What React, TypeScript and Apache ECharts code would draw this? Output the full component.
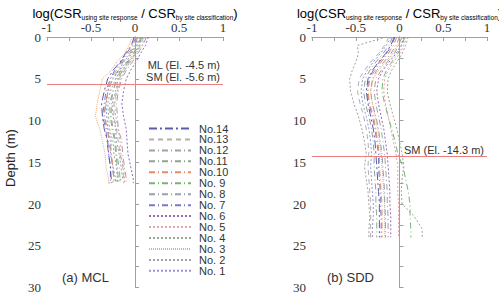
import React, { useEffect, useRef } from "react";
import * as echarts from "echarts";

// Depth sample points (m)
const depthMCL = [0, 1, 2, 3, 4, 5, 6.5, 8, 9.5, 11, 12.5, 14, 15.5, 17, 17.5];
const depthSDD = [0, 1, 2, 3, 4, 5, 6.5, 8, 9.5, 11, 12.5, 14, 15.5, 17, 18.5, 20, 21.5, 23, 24];

// Tick labels
const xTicks = [-1, -0.5, 0, 0.5, 1];
const yTicks = [0, 5, 10, 15, 20, 25, 30];

const seriesNames = ["No. 1", "No. 2", "No. 3", "No. 4", "No. 5", "No. 6", "No. 7", "No. 8", "No. 9", "No.10", "No.11", "No.12", "No.13", "No.14"];

// (a) MCL: log ratio per record
const mcl1 = [0.04, 0.01, -0.05, -0.13, -0.18, -0.25, -0.31, -0.33, -0.32, -0.31, -0.27, -0.28, -0.25, -0.22, -0.22];
const mcl2 = [0.09, 0.05, 0.0, -0.07, -0.14, -0.19, -0.22, -0.26, -0.25, -0.22, -0.21, -0.18, -0.16, -0.14, -0.30];
const mcl3 = [-0.03, -0.07, -0.12, -0.21, -0.27, -0.37, -0.40, -0.43, -0.45, -0.40, -0.37, -0.34, -0.33, -0.30, -0.30];
const mcl4 = [0.06, 0.02, -0.04, -0.10, -0.17, -0.22, -0.28, -0.31, -0.30, -0.29, -0.25, -0.24, -0.21, -0.20, -0.20];
const mcl5 = [0.12, 0.08, 0.01, -0.05, -0.12, -0.16, -0.20, -0.23, -0.22, -0.19, -0.17, -0.16, -0.13, -0.12, -0.12];
const mcl6 = [0.15, 0.12, 0.06, 0.01, -0.05, -0.10, -0.13, -0.15, -0.13, -0.10, -0.09, -0.08, -0.05, -0.02, -0.02];
const mcl7 = [0.01, -0.03, -0.10, -0.16, -0.23, -0.28, -0.33, -0.35, -0.37, -0.33, -0.32, -0.30, -0.28, -0.28, -0.28];
const mcl8 = [0.03, 0.0, -0.06, -0.14, -0.19, -0.26, -0.30, -0.34, -0.35, -0.32, -0.28, -0.27, -0.26, -0.24, -0.24];
const mcl9 = [0.07, 0.03, -0.02, -0.09, -0.16, -0.21, -0.25, -0.29, -0.28, -0.26, -0.23, -0.22, -0.20, -0.19, -0.19];
const mcl10 = [0.02, -0.01, -0.08, -0.15, -0.21, -0.28, -0.31, -0.33, -0.35, -0.31, -0.30, -0.27, -0.25, -0.24, -0.24];
const mcl11 = [0.08, 0.04, -0.01, -0.08, -0.14, -0.20, -0.25, -0.27, -0.27, -0.25, -0.22, -0.21, -0.18, -0.17, -0.17];
const mcl12 = [0.13, 0.09, 0.03, -0.03, -0.10, -0.15, -0.19, -0.21, -0.20, -0.19, -0.15, -0.14, -0.12, -0.10, -0.10];
const mcl13 = [0.10, 0.06, 0.01, -0.06, -0.12, -0.18, -0.21, -0.24, -0.24, -0.21, -0.19, -0.17, -0.14, -0.13, -0.13];
const mcl14 = [-0.01, -0.04, -0.11, -0.17, -0.25, -0.31, -0.35, -0.38, -0.37, -0.35, -0.31, -0.30, -0.28, -0.27, -0.27];

// (b) SDD
const sdd1 = [-0.10, -0.15, -0.22, -0.30, -0.37, -0.42, -0.44, -0.42, -0.38, -0.35, -0.33, -0.32, -0.33, -0.32, -0.31, -0.30, -0.30, -0.31, -0.31];
const sdd2 = [-0.15, -0.48, -0.47, -0.50, -0.54, -0.57, -0.56, -0.52, -0.47, -0.43, -0.40, -0.38, -0.40, -0.38, -0.36, -0.35, -0.34, -0.35, -0.35];
const sdd3 = [0.02, -0.02, -0.08, -0.16, -0.24, -0.30, -0.33, -0.31, -0.28, -0.25, -0.23, -0.21, -0.20, -0.19, -0.18, -0.17, -0.17, -0.17, -0.17];
const sdd4 = [0.10, 0.07, 0.03, -0.03, -0.09, -0.13, -0.14, -0.11, -0.07, -0.03, 0.0, 0.03, 0.05, 0.03, 0.02, 0.03, 0.17, 0.26, 0.26];
const sdd5 = [0.08, 0.05, 0.0, -0.07, -0.13, -0.17, -0.18, -0.16, -0.13, -0.10, -0.07, -0.04, -0.02, -0.02, -0.02, -0.01, -0.01, -0.01, -0.01];
const sdd6 = [0.05, 0.02, -0.04, -0.12, -0.19, -0.24, -0.26, -0.24, -0.21, -0.18, -0.16, -0.14, -0.13, -0.12, -0.11, -0.11, -0.10, -0.10, -0.10];
const sdd7 = [-0.05, -0.09, -0.15, -0.23, -0.30, -0.35, -0.37, -0.35, -0.31, -0.28, -0.26, -0.24, -0.24, -0.23, -0.22, -0.22, -0.21, -0.21, -0.21];
const sdd8 = [0.0, -0.04, -0.10, -0.18, -0.26, -0.31, -0.33, -0.31, -0.27, -0.24, -0.22, -0.20, -0.19, -0.18, -0.17, -0.17, -0.16, -0.16, -0.16];
const sdd9 = [0.06, 0.03, -0.02, -0.09, -0.15, -0.19, -0.20, -0.17, -0.13, -0.09, -0.05, -0.02, 0.04, 0.07, 0.10, 0.12, 0.12, 0.13, 0.13];
const sdd10 = [-0.03, -0.07, -0.13, -0.21, -0.28, -0.34, -0.36, -0.34, -0.30, -0.27, -0.25, -0.23, -0.23, -0.22, -0.21, -0.20, -0.20, -0.20, -0.20];
const sdd11 = [-0.08, -0.12, -0.19, -0.27, -0.34, -0.39, -0.41, -0.39, -0.35, -0.32, -0.30, -0.29, -0.29, -0.28, -0.27, -0.27, -0.26, -0.26, -0.26];
const sdd12 = [0.03, -0.01, -0.06, -0.14, -0.21, -0.27, -0.29, -0.27, -0.24, -0.21, -0.19, -0.17, -0.16, -0.15, -0.14, -0.14, -0.13, -0.13, -0.13];
const sdd13 = [-0.12, -0.17, -0.24, -0.33, -0.40, -0.46, -0.48, -0.45, -0.41, -0.38, -0.36, -0.35, -0.36, -0.35, -0.34, -0.33, -0.33, -0.33, -0.33];
const sdd14 = [-0.06, -0.10, -0.16, -0.24, -0.31, -0.36, -0.38, -0.36, -0.33, -0.30, -0.28, -0.27, -0.26, -0.25, -0.24, -0.23, -0.23, -0.23, -0.23];

const mclValues = [mcl1, mcl2, mcl3, mcl4, mcl5, mcl6, mcl7, mcl8, mcl9, mcl10, mcl11, mcl12, mcl13, mcl14];
const sddValues = [sdd1, sdd2, sdd3, sdd4, sdd5, sdd6, sdd7, sdd8, sdd9, sdd10, sdd11, sdd12, sdd13, sdd14];

// layer boundaries (m)
const mclBoundary = 5.6;
const sddBoundary = 14.3;

const colors = ["#9494dc", "#a0a0a6", "#f2aa70", "#98a898", "#eaa2a2", "#9468be", "#7878cc", "#94a2ae", "#78b278", "#ea8a66", "#94a294", "#a2a2a2", "#b0b0b0", "#5a5ab0"];
const dashes: any[] = [[2, 2], [2, 2], [1, 1], [2, 2], [2, 2], [2, 2], [6, 3, 1, 3], [6, 3, 1, 3], [6, 3, 1, 3], [6, 3, 1, 3], [6, 3, 1, 3], [6, 3, 1, 3], [5, 4], [8, 3, 2, 3]];

const SERIF = "Liberation Serif, DejaVu Serif, serif";
const SANS = "Liberation Sans";
const AXIS = "#a0a0a0";

export default function App() {
  const ref = useRef<HTMLDivElement>(null);
  useEffect(() => {
    if (!ref.current) return;
    const chart = echarts.init(ref.current, null, { renderer: "svg" });

    const grids = [
      { left: 47, top: 37, width: 176, height: 252 },
      { left: 312, top: 37, width: 175, height: 252 },
    ];

    const xAxes: any[] = [];
    const yAxes: any[] = [];
    grids.forEach((_, g) => {
      xAxes.push({
        type: "value", gridIndex: g, position: "top", min: -1, max: 1, interval: 0.5,
        axisLine: { show: true, lineStyle: { color: AXIS } },
        axisTick: { show: true, inside: true, length: 4, lineStyle: { color: AXIS } },
        minorTick: { show: true, splitNumber: 2, length: 4, lineStyle: { color: AXIS } },
        splitLine: { show: false },
        axisLabel: { fontFamily: SERIF, fontSize: 13, color: "#333", margin: 3, formatter: (v: number) => (xTicks.includes(v) ? String(v) : "") },
      });
      xAxes.push({
        type: "value", gridIndex: g, position: "bottom", min: -1, max: 1, interval: 0.5,
        axisLine: { show: true, lineStyle: { color: AXIS } },
        axisTick: { show: false }, axisLabel: { show: false }, splitLine: { show: false },
      });
      yAxes.push({
        type: "value", gridIndex: g, position: "left", inverse: true, min: 0, max: 30, interval: 5,
        axisLine: { show: true, lineStyle: { color: AXIS } },
        axisTick: { show: true, inside: true, length: 4, lineStyle: { color: AXIS } },
        minorTick: { show: true, splitNumber: 2, length: 4, lineStyle: { color: AXIS } },
        splitLine: { show: false },
        axisLabel: { fontFamily: SERIF, fontSize: 13, color: "#333", margin: 6, formatter: (v: number) => (yTicks.includes(v) ? String(v) : "") },
      });
      yAxes.push({
        type: "value", gridIndex: g, position: "right", inverse: true, min: 0, max: 30, interval: 5,
        axisLine: { show: true, lineStyle: { color: AXIS } },
        axisTick: { show: false }, axisLabel: { show: false }, splitLine: { show: false },
      });
    });

    const series: any[] = [];
    const panels = [
      { depth: depthMCL, values: mclValues, boundary: mclBoundary },
      { depth: depthSDD, values: sddValues, boundary: sddBoundary },
    ];
    panels.forEach((p, g) => {
      p.values.forEach((vals, i) => {
        const s: any = {
          type: "line", name: seriesNames[i], xAxisIndex: g * 2, yAxisIndex: g * 2,
          data: p.depth.map((d, k) => [vals[k], d]),
          symbol: "none", z: 3,
          lineStyle: { color: colors[i], width: 1, type: dashes[i] },
          itemStyle: { color: colors[i] },
        };
        if (i === 0) {
          s.markLine = {
            silent: true, symbol: "none", label: { show: false },
            lineStyle: { color: "#ee7f7f", width: 1, type: "solid" },
            data: [{ xAxis: 0 }, { yAxis: p.boundary }],
          };
        }
        series.push(s);
      });
    });

    const titleRich = {
      m: { fontFamily: SANS, fontSize: 13, color: "#222", lineHeight: 16, verticalAlign: "middle" },
      s: { fontFamily: SANS, fontSize: 6.5, color: "#222", lineHeight: 7, verticalAlign: "bottom" },
    };
    const titleText = "{m|log(CSR}{s|using site response}{m| / CSR}{s|by site classification}{m|)}";

    chart.setOption({
      animation: false,
      grid: grids,
      xAxis: xAxes,
      yAxis: yAxes,
      series,
      legend: {
        data: [...seriesNames].reverse(),
        orient: "vertical", left: 143, top: 118, height: 200, itemWidth: 42, itemHeight: 10, itemGap: -0.05,
        selectedMode: false,
        itemStyle: { opacity: 0 },
        textStyle: { fontFamily: SANS, fontSize: 11, color: "#333", lineHeight: 10, padding: [0, 0, 0, 3] },
      },
      graphic: [
        { type: "text", x: 135, y: 13, style: { text: titleText, rich: titleRich, align: "center", verticalAlign: "middle" } },
        { type: "text", x: 399.5, y: 13, style: { text: titleText, rich: titleRich, align: "center", verticalAlign: "middle" } },
        { type: "text", x: 10, y: 158, rotation: Math.PI / 2, style: { text: "Depth (m)", fontFamily: SANS, fontSize: 13, fill: "#222", align: "center", verticalAlign: "middle" } },
        { type: "text", x: 220, y: 65, style: { text: "ML (El. -4.5 m)", fontFamily: SANS, fontSize: 11, fill: "#333", align: "right", verticalAlign: "middle" } },
        { type: "text", x: 220, y: 77, style: { text: "SM (El. -5.6 m)", fontFamily: SANS, fontSize: 11, fill: "#333", align: "right", verticalAlign: "middle" } },
        { type: "text", x: 484, y: 150, style: { text: "SM (El. -14.3 m)", fontFamily: SANS, fontSize: 11, fill: "#333", align: "right", verticalAlign: "middle" } },
        { type: "text", x: 62, y: 277, style: { text: "(a) MCL", fontFamily: SANS, fontSize: 13, fill: "#333", align: "left", verticalAlign: "middle" } },
        { type: "text", x: 327, y: 277, style: { text: "(b) SDD", fontFamily: SANS, fontSize: 13, fill: "#333", align: "left", verticalAlign: "middle" } },
      ],
    });
    return () => chart.dispose();
  }, []);
  return <div ref={ref} style={{ position: "fixed", left: 0, top: 0, width: 499, height: 294, background: "#fff" }} />;
}
